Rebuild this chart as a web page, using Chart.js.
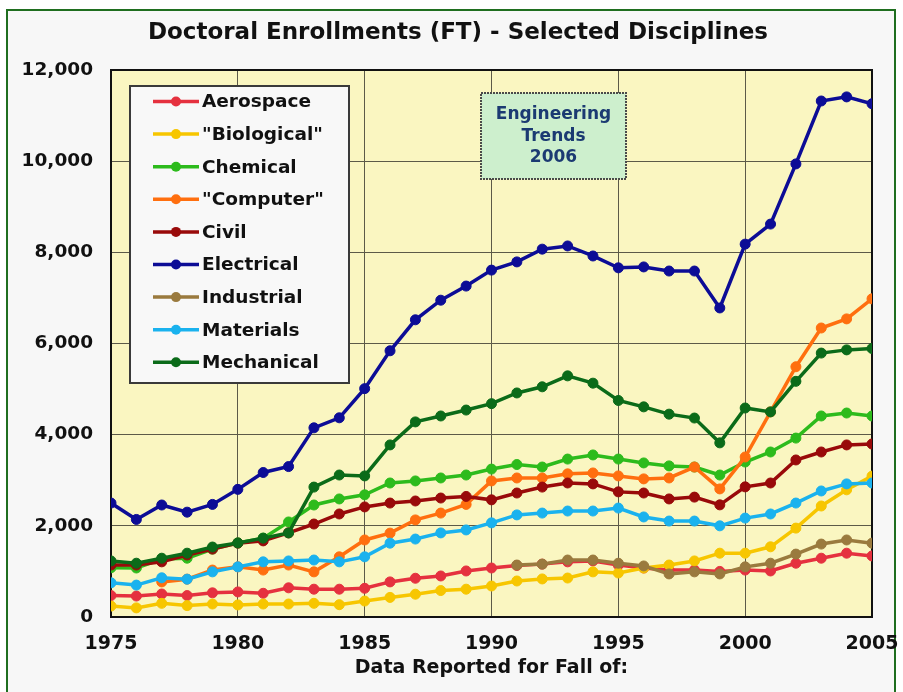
<!DOCTYPE html>
<html lang="en">
<head>
  <meta charset="UTF-8">
  <title>Doctoral Enrollments (FT) - Selected Disciplines</title>
  <script src="https://cdn.jsdelivr.net/npm/chart.js"></script>
  <style>
    html, body { margin: 0; padding: 0; background: #ffffff; }
    #wrap { width: 903px; height: 692px; }
  </style>
</head>
<body>
  <div id="wrap"><canvas id="chart" width="903" height="692"></canvas></div>

  <script>
    // Data (full-time doctoral enrollments, fall of each year)
    const years = [1975, 1976, 1977, 1978, 1979, 1980, 1981, 1982, 1983, 1984, 1985, 1986, 1987, 1988, 1989, 1990,
                   1991, 1992, 1993, 1994, 1995, 1996, 1997, 1998, 1999, 2000, 2001, 2002, 2003, 2004, 2005];

    const aerospace  = [470, 460, 505, 470, 530, 550, 520, 640, 610, 610, 630, 770, 850, 900, 1010, 1075,
                        1130, 1160, 1210, 1230, 1140, 1075, 1030, 1030, 1000, 1030, 1010, 1180, 1290, 1400, 1340];
    const biological = [240, 200, 300, 250, 285, 265, 285, 285, 300, 270, 350, 430, 500, 580, 610, 680,
                        790, 835, 855, 990, 965, 1075, 1140, 1230, 1400, 1400, 1540, 1950, 2435, 2790, 3090];
    const chemical   = [1080, 1075, 1270, 1290, 1490, 1625, 1730, 2085, 2457, 2590, 2680, 2940, 2985, 3050, 3115, 3245,
                        3345, 3290, 3465, 3555, 3465, 3380, 3315, 3290, 3115, 3400, 3620, 3925, 4410, 4475, 4410];
    const computer   = [null, null, 770, 830, 1030, 1100, 1030, 1140, 990, 1320, 1690, 1840, 2130, 2280, 2470, 2985,
                        3050, 3050, 3140, 3160, 3095, 3030, 3050, 3290, 2810, 3510, 4500, 5490, 6340, 6540, 6980];
    const civil      = [1140, 1140, 1210, 1360, 1490, 1620, 1670, 1845, 2040, 2260, 2415, 2500, 2545, 2610, 2645, 2570,
                        2720, 2850, 2940, 2920, 2745, 2720, 2590, 2630, 2460, 2855, 2940, 3445, 3620, 3775, 3795];
    const electrical = [2500, 2140, 2457, 2300, 2470, 2800, 3170, 3300, 4150, 4370, 5010, 5840, 6520, 6950, 7260, 7610,
                        7790, 8070, 8140, 7920, 7660, 7680, 7590, 7590, 6780, 8180, 8620, 9940, 11320, 11410, 11260];
    const industrial = [null, null, null, null, null, null, null, null, null, null, null, null, null, null, null, null,
                        1140, 1160, 1250, 1250, 1180, 1120, 945, 990, 945, 1100, 1180, 1380, 1600, 1690, 1620];
    const materials  = [750, 700, 860, 830, 990, 1100, 1210, 1230, 1250, 1210, 1320, 1620, 1710, 1845, 1910, 2065,
                        2240, 2280, 2325, 2325, 2390, 2195, 2105, 2105, 2000, 2170, 2260, 2500, 2765, 2920, 2940];
    const mechanical = [1230, 1180, 1290, 1400, 1535, 1625, 1730, 1845, 2850, 3115, 3095, 3775, 4280, 4410, 4540, 4680,
                        4915, 5050, 5290, 5130, 4750, 4610, 4450, 4365, 3820, 4585, 4500, 5170, 5790, 5860, 5890];

    const seriesNames = ['Aerospace', '"Biological"', 'Chemical', '"Computer"', 'Civil',
                         'Electrical', 'Industrial', 'Materials', 'Mechanical'];
    const seriesData = [aerospace, biological, chemical, computer, civil, electrical, industrial, materials, mechanical];
    const seriesColors = ['#e5313f', '#f7c600', '#2dbb1c', '#ff6f0f', '#990a0a',
                          '#0c0c96', '#9a7a3e', '#1ab2ee', '#0b6b19'];

    const yTicks = [0, 2000, 4000, 6000, 8000, 10000, 12000];
    const xTicks = [1975, 1980, 1985, 1990, 1995, 2000, 2005];

    const FONT = '"DejaVu Sans", Verdana, sans-serif';

    const datasets = seriesNames.map((name, i) => ({
      label: name,
      data: years.map((yr, j) => ({ x: yr, y: seriesData[i][j] })),
      borderColor: seriesColors[i],
      backgroundColor: seriesColors[i],
      pointBackgroundColor: seriesColors[i],
      pointBorderColor: seriesColors[i],
      borderWidth: 3.5,
      pointRadius: 5,
      pointBorderWidth: 1,
      tension: 0,
      spanGaps: false,
      order: seriesNames.length - i   // later series drawn on top
    }));

    // background, frame and yellow plot area
    const backdrop = {
      id: 'backdrop',
      beforeDraw(chart) {
        const { ctx, chartArea: a } = chart;
        ctx.save();
        ctx.fillStyle = '#ffffff';
        ctx.fillRect(0, 0, chart.width, chart.height);
        ctx.fillStyle = '#f7f7f7';
        ctx.fillRect(7, 10, 888, 700);
        ctx.strokeStyle = '#1f6e1f';
        ctx.lineWidth = 2;
        ctx.strokeRect(7, 10, 888, 700);
        ctx.fillStyle = '#faf6c1';
        ctx.fillRect(a.left, a.top, a.right - a.left, a.bottom - a.top);
        ctx.restore();
      },
      beforeDatasetsDraw(chart) {
        const { ctx, chartArea: a } = chart;
        ctx.save();
        ctx.strokeStyle = '#111111';
        ctx.lineWidth = 2;
        ctx.strokeRect(a.left, a.top, a.right - a.left, a.bottom - a.top);
        ctx.restore();
      }
    };

    // title, legend box and the "Engineering Trends" note
    const decorations = {
      id: 'decorations',
      afterDraw(chart) {
        const ctx = chart.ctx;
        ctx.save();

        ctx.fillStyle = '#111111';
        ctx.font = 'bold 23px ' + FONT;
        ctx.textAlign = 'center';
        ctx.textBaseline = 'middle';
        ctx.fillText('Doctoral Enrollments (FT) - Selected Disciplines', 458, 33);

        // legend
        ctx.fillStyle = '#f8f8f8';
        ctx.fillRect(130, 86, 219, 297);
        ctx.strokeStyle = '#3a3a3a';
        ctx.lineWidth = 2;
        ctx.strokeRect(130, 86, 219, 297);
        ctx.font = 'bold 18.5px ' + FONT;
        ctx.textAlign = 'left';
        chart.data.datasets.forEach((ds, i) => {
          const y = 101.5 + i * 32.6;
          ctx.strokeStyle = ds.borderColor;
          ctx.lineWidth = 3.5;
          ctx.beginPath();
          ctx.moveTo(153, y);
          ctx.lineTo(199, y);
          ctx.stroke();
          ctx.fillStyle = ds.borderColor;
          ctx.beginPath();
          ctx.arc(176, y, 5, 0, 2 * Math.PI);
          ctx.fill();
          ctx.fillStyle = '#111111';
          ctx.fillText(ds.label, 202, y + 1);
        });

        // note box
        ctx.fillStyle = '#cdefcd';
        ctx.fillRect(481, 93, 145, 86);
        ctx.strokeStyle = '#4a4a4a';
        ctx.lineWidth = 2;
        ctx.setLineDash([2, 1]);
        ctx.strokeRect(481, 93, 145, 86);
        ctx.setLineDash([]);
        ctx.fillStyle = '#1b3a72';
        ctx.font = 'bold 17px ' + FONT;
        ctx.textAlign = 'center';
        ['Engineering', 'Trends', '2006'].forEach((t, k) => {
          ctx.fillText(t, 553.5, 115 + k * 21.5);
        });

        ctx.restore();
      }
    };

    new Chart(document.getElementById('chart'), {
      type: 'line',
      data: { datasets: datasets },
      options: {
        responsive: false,
        animation: false,
        devicePixelRatio: 1,
        layout: { padding: { top: 70, right: 31, bottom: 0, left: 0 } },
        plugins: {
          legend: { display: false },
          title: { display: false },
          tooltip: { enabled: false }
        },
        scales: {
          x: {
            type: 'linear',
            min: xTicks[0],
            max: xTicks[xTicks.length - 1],
            afterBuildTicks: s => { s.ticks = xTicks.map(v => ({ value: v })); },
            afterFit: s => { s.height = 75; s.paddingLeft = 0; s.paddingRight = 0; },
            grid: { color: '#5c5a48', lineWidth: 1, drawTicks: false },
            border: { display: false },
            ticks: {
              padding: 16,
              color: '#111111',
              font: { family: FONT, size: 19, weight: 'bold' },
              maxRotation: 0,
              callback: v => String(v)
            },
            title: {
              display: true,
              text: 'Data Reported for Fall of:',
              color: '#111111',
              font: { family: FONT, size: 19, weight: 'bold' },
              padding: { top: 0, bottom: 13 }
            }
          },
          y: {
            min: yTicks[0],
            max: yTicks[yTicks.length - 1],
            afterBuildTicks: s => { s.ticks = yTicks.map(v => ({ value: v })); },
            afterFit: s => { s.width = 111; },
            grid: { color: '#5c5a48', lineWidth: 1, drawTicks: false },
            border: { display: false },
            ticks: {
              padding: 18,
              color: '#111111',
              font: { family: FONT, size: 18.5, weight: 'bold' },
              callback: v => v.toLocaleString('en-US')
            }
          }
        }
      },
      plugins: [backdrop, decorations]
    });
  </script>
</body>
</html>
